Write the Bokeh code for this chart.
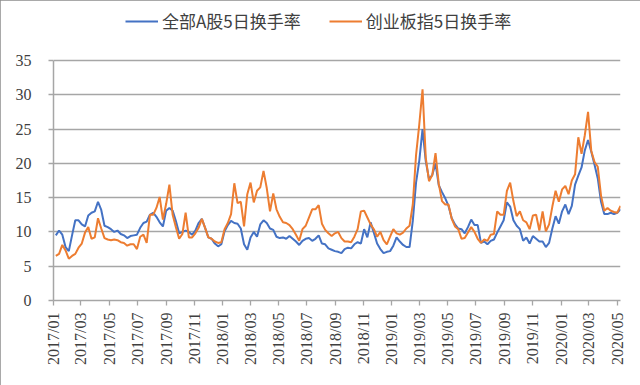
import pandas as pd
from datetime import datetime
from math import pi
from bokeh.plotting import figure
from bokeh.models import (ColumnDataSource, Legend, LegendItem, FixedTicker,
                          DatetimeTickFormatter, Range1d)
from bokeh.embed import file_html
from bokeh.resources import INLINE

series_names = ["全部A股5日换手率", "创业板指5日换手率"]
first_week = "2017-01-06"
tick_months = pd.date_range("2017-01-01", "2020-05-01", freq="2MS")
y_ticks = [0, 5, 10, 15, 20, 25, 30, 35]

# weekly values, 全部A股5日换手率
all_a_2017 = [9.5, 10.2, 9.6, 7.8, 7.2, 9.5, 11.7, 11.7, 11.1, 10.8, 12.4, 12.8, 13.0,
              14.4, 13.2, 10.9, 10.7, 10.4, 10.0, 10.2, 9.7, 9.5, 9.1, 9.4, 9.5, 9.6,
              10.6, 11.3, 11.5, 12.5, 12.8, 12.2, 11.4, 10.8, 13.1, 13.5, 13.1, 11.6, 9.8,
              10.0, 10.2, 10.0, 9.6, 10.2, 11.3, 11.9, 10.6, 9.2, 9.0, 8.3, 7.9, 8.2]
all_a_2018 = [10.1, 11.0, 11.6, 11.3, 11.2, 10.5, 8.2, 7.4, 9.2, 10.0, 9.3, 11.1, 11.7,
              11.3, 10.5, 10.3, 9.3, 9.1, 9.2, 9.0, 9.4, 9.0, 8.6, 8.1, 8.7, 9.0,
              9.1, 8.7, 9.0, 9.5, 8.3, 8.2, 7.6, 7.4, 7.2, 7.1, 6.9, 7.5, 7.7,
              7.6, 8.2, 8.5, 8.3, 10.4, 9.2, 11.4, 9.9, 8.3, 7.5, 6.9, 7.1, 7.2]
all_a_2019 = [8.0, 9.2, 8.6, 8.1, 7.8, 7.8, 11.6, 17.2, 20.4, 25.0, 20.3, 17.7, 18.3,
              20.0, 16.8, 15.8, 14.9, 13.8, 12.0, 11.1, 10.5, 10.4, 9.8, 10.7, 11.8, 11.0,
              11.0, 8.4, 8.6, 8.2, 8.7, 8.9, 9.9, 10.8, 11.7, 14.3, 13.7, 11.7, 10.9,
              10.4, 8.7, 9.2, 8.3, 9.4, 9.0, 8.6, 8.6, 7.8, 8.4, 10.5, 12.3, 11.2]
all_a_2020 = [13.0, 14.0, 12.6, 13.8, 16.9, 18.2, 19.4, 21.9, 23.4, 21.7, 19.8, 17.8, 14.4,
              12.6, 12.6, 12.8, 12.6, 12.8, 13.3]

# weekly values, 创业板指5日换手率
gem_2017 = [6.5, 6.8, 8.1, 7.3, 6.1, 6.5, 6.8, 7.7, 8.3, 9.9, 10.7, 9.0, 9.2,
            12.0, 10.5, 9.1, 8.9, 8.8, 8.9, 8.8, 8.5, 8.4, 8.0, 8.2, 8.2, 7.5,
            9.3, 9.6, 8.4, 12.5, 12.5, 13.5, 15.1, 11.8, 14.1, 16.9, 12.5, 10.7, 9.0,
            9.7, 12.8, 9.2, 9.2, 9.8, 10.6, 11.9, 10.6, 9.2, 9.0, 8.6, 8.4, 8.5]
gem_2018 = [10.4, 11.3, 12.6, 17.1, 14.2, 14.4, 10.8, 15.5, 17.2, 14.3, 16.0, 16.5, 18.9,
            16.4, 13.0, 15.6, 13.3, 12.2, 11.4, 11.3, 11.0, 10.4, 9.6, 8.7, 10.4, 10.9,
            12.1, 13.3, 13.3, 13.9, 11.2, 10.3, 9.8, 9.4, 9.8, 10.0, 9.1, 8.6, 8.6,
            8.5, 9.3, 10.4, 13.0, 13.1, 12.1, 11.1, 10.4, 9.3, 10.0, 8.8, 8.2, 9.3]
gem_2019 = [10.4, 9.8, 9.6, 9.9, 10.5, 10.9, 14.0, 21.2, 25.7, 30.8, 20.8, 17.4, 18.3,
            21.5, 17.0, 14.5, 14.0, 14.0, 11.9, 10.8, 10.4, 9.0, 9.1, 9.9, 10.7, 10.0,
            9.0, 8.4, 8.9, 8.7, 9.6, 9.7, 13.0, 12.5, 12.5, 16.0, 17.2, 14.5, 12.3,
            13.0, 11.7, 11.4, 10.4, 12.4, 12.5, 10.2, 13.0, 10.1, 11.1, 13.7, 16.0, 14.4]
gem_2020 = [16.2, 16.7, 15.5, 17.5, 18.4, 23.8, 21.4, 24.1, 27.5, 21.8, 20.2, 19.5, 15.3,
            13.1, 13.5, 13.1, 12.9, 12.8, 13.8]

all_a = all_a_2017 + all_a_2018 + all_a_2019 + all_a_2020
gem = gem_2017 + gem_2018 + gem_2019 + gem_2020
dates = pd.date_range(first_week, periods=len(all_a), freq="7D")

src = ColumnDataSource(dict(date=dates, all_a=all_a, gem=gem))

# frame runs from y=4 to y=300; value 35 sits at y=60 (room for the legend on top)
FRAME_TOP = 4
Y_TOP = 35 * (300 - FRAME_TOP) / 240

GRID = "#a6a6a6"
p = figure(width=640, height=385, output_backend="svg", toolbar_location=None,
           x_axis_type="datetime",
           x_range=Range1d(datetime(2017, 1, 1), datetime(2020, 5, 8)),
           y_range=Range1d(0, Y_TOP),
           min_border_left=53, min_border_right=20, min_border_top=FRAME_TOP,
           min_border_bottom=85)
p.outline_line_color = None
p.background_fill_color = "white"
p.border_fill_color = "white"
p.styles = {"outline": "1px solid #8c8c8c", "outline-offset": "-1px"}

r1 = p.line("date", "all_a", source=src, line_color="#4472C4", line_width=2)
r2 = p.line("date", "gem", source=src, line_color="#ED7D31", line_width=2)

p.xgrid.grid_line_color = None
p.ygrid.grid_line_color = GRID
p.ygrid.grid_line_width = 1.3
p.yaxis.ticker = FixedTicker(ticks=y_ticks)
p.yaxis.bounds = (0, 35)
p.xaxis.ticker = FixedTicker(ticks=[t.timestamp() * 1000 for t in tick_months])
fmt = "%Y/%m"
p.xaxis.formatter = DatetimeTickFormatter(milliseconds=fmt, seconds=fmt, minsec=fmt,
                                          minutes=fmt, hourmin=fmt, hours=fmt,
                                          days=fmt, months=fmt, years=fmt)
p.xaxis.major_label_orientation = pi / 2

for ax in (p.xaxis[0], p.yaxis[0]):
    ax.axis_line_color = GRID
    ax.axis_line_width = 1.5
    ax.major_tick_line_color = GRID
    ax.major_tick_line_width = 1.3
    ax.major_tick_in = 0
    ax.major_tick_out = 5
    ax.minor_tick_line_color = None
    ax.major_label_text_font = "Liberation Serif"
    ax.major_label_text_font_size = "16px"
    ax.major_label_text_color = "#404040"
p.yaxis.major_label_standoff = 17
p.xaxis.major_label_standoff = 7

legend = Legend(items=[LegendItem(label=series_names[0], renderers=[r1]),
                       LegendItem(label=series_names[1], renderers=[r2])],
                orientation="horizontal", location=(72, 267),
                label_text_font="Noto Sans CJK SC", label_text_font_size="17px",
                label_text_color="#404040",
                glyph_width=33, glyph_height=20, label_height=20, label_standoff=4,
                spacing=28, padding=0, margin=0, border_line_color=None,
                background_fill_alpha=0)
p.add_layout(legend, "center")

open("out.html", "w").write(file_html(p, INLINE))
